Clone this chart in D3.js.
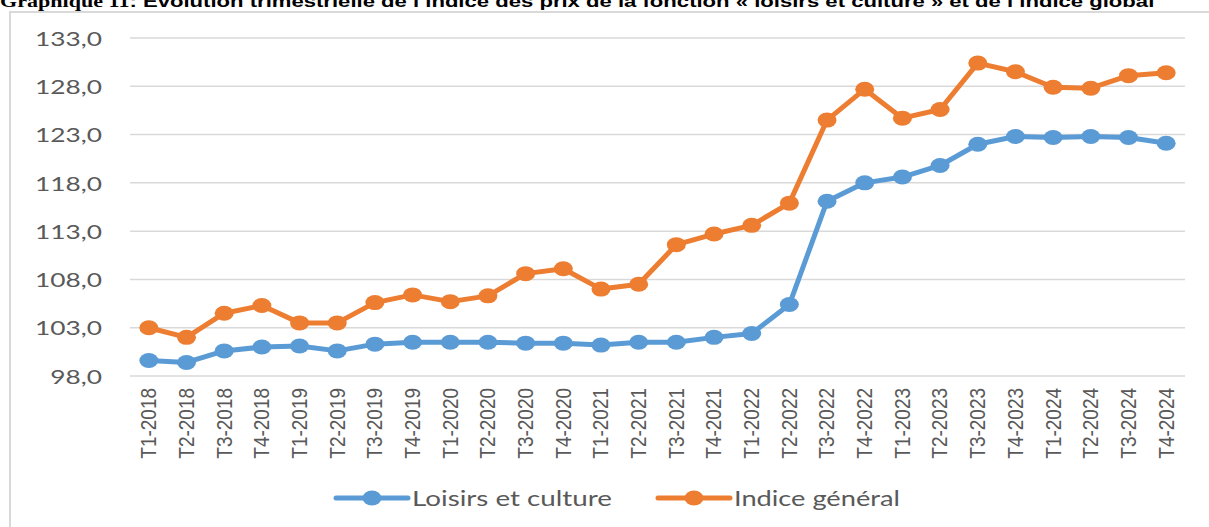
<!DOCTYPE html>
<html>
<head>
<meta charset="utf-8">
<script src="https://cdn.jsdelivr.net/npm/d3@7"></script>
<style>
  html, body { margin: 0; padding: 0; background: #fff; }
  svg { display: block; }
</style>
</head>
<body>
<div id="chart"></div>
<script>
// quarterly categories
const quarters = [
  "T1-2018", "T2-2018", "T3-2018", "T4-2018",
  "T1-2019", "T2-2019", "T3-2019", "T4-2019",
  "T1-2020", "T2-2020", "T3-2020", "T4-2020",
  "T1-2021", "T2-2021", "T3-2021", "T4-2021",
  "T1-2022", "T2-2022", "T3-2022", "T4-2022",
  "T1-2023", "T2-2023", "T3-2023", "T4-2023",
  "T1-2024", "T2-2024", "T3-2024", "T4-2024"
];

// values
const loisirs = [
  99.6, 99.4, 100.6, 101.0,
  101.1, 100.6, 101.3, 101.5,
  101.5, 101.5, 101.4, 101.4,
  101.2, 101.5, 101.5, 102.0,
  102.4, 105.4, 116.1, 118.0,
  118.6, 119.8, 122.0, 122.8,
  122.7, 122.8, 122.7, 122.1
];
const indiceGeneral = [
  103.0, 102.0, 104.5, 105.3,
  103.5, 103.5, 105.6, 106.4,
  105.7, 106.3, 108.6, 109.1,
  107.0, 107.5, 111.6, 112.7,
  113.6, 115.9, 124.5, 127.7,
  124.7, 125.6, 130.4, 129.5,
  127.9, 127.8, 129.1, 129.4
];

const yTicks = [98, 103, 108, 113, 118, 123, 128, 133];

const seriesNames = ["Loisirs et culture", "Indice général"];
const seriesColors = ["#5b9bd5", "#ed7d31"];

const width = 1209, height = 527;
const plot = { left: 130, right: 1185, top: 38, bottom: 376 };

const svg = d3.select("#chart").append("svg")
  .attr("width", width)
  .attr("height", height);

// title (top half is cut off in the source)
const title = svg.append("text")
  .attr("x", 0)
  .attr("y", 7)
  .attr("font-size", 17)
  .attr("font-weight", "bold")
  .attr("fill", "#000");
title.append("tspan")
  .attr("font-family", "'Liberation Serif', serif")
  .text("Graphique 11");
title.append("tspan")
  .attr("font-family", "'Liberation Sans', Arial, sans-serif")
  .text(": Évolution trimestrielle de l’indice des prix de la fonction « loisirs et culture » et de l’indice global");
const tw = title.node().getComputedTextLength();
title.attr("transform", `scale(${1155 / tw},1)`);

// chart frame
svg.append("path")
  .attr("d", `M10,${height} V12 H${width}`)
  .attr("fill", "none")
  .attr("stroke", "#d9d9d9")
  .attr("stroke-width", 2);

const x = d3.scaleBand()
  .domain(quarters)
  .range([plot.left, plot.right]);

const y = d3.scaleLinear()
  .domain([98, 133])
  .range([plot.bottom, plot.top]);

// grid lines
svg.append("g")
  .selectAll("line")
  .data(yTicks)
  .join("line")
  .attr("x1", plot.left)
  .attr("x2", plot.right)
  .attr("y1", d => y(d))
  .attr("y2", d => y(d))
  .attr("stroke", "#d9d9d9")
  .attr("stroke-width", 1.5);

// y labels
const fmt = d => d.toFixed(1).replace(".", ",");
const yLab = svg.append("g")
  .attr("font-family", "Lato, 'Open Sans', sans-serif")
  .attr("font-size", 20)
  .attr("fill", "#595959");
const yTexts = yLab.selectAll("text")
  .data(yTicks)
  .join("text")
  .attr("text-anchor", "end")
  .attr("dominant-baseline", "central")
  .text(fmt);
const wRef = yTexts.filter(d => d === 133).node().getComputedTextLength();
const sx = 67 / wRef;
yTexts.attr("transform", d => `translate(102,${y(d)}) scale(${sx},1)`);

// x labels, rotated
svg.append("g")
  .attr("font-family", "'Liberation Sans', Arial, sans-serif")
  .attr("font-size", 19)
  .attr("fill", "#595959")
  .selectAll("text")
  .data(quarters)
  .join("text")
  .attr("text-anchor", "end")
  .attr("dominant-baseline", "central")
  .attr("transform", d => `translate(${x(d) + x.bandwidth() / 2},388) rotate(-90) scale(1,1.12)`)
  .text(d => d);

// series
const series = [loisirs, indiceGeneral];
const line = d3.line()
  .x((d, i) => x(quarters[i]) + x.bandwidth() / 2)
  .y(d => y(d));

series.forEach((vals, s) => {
  const g = svg.append("g");
  g.append("path")
    .datum(vals)
    .attr("d", line)
    .attr("fill", "none")
    .attr("stroke", seriesColors[s])
    .attr("stroke-width", 5)
    .attr("stroke-linejoin", "round");
  g.selectAll("ellipse")
    .data(vals)
    .join("ellipse")
    .attr("cx", (d, i) => x(quarters[i]) + x.bandwidth() / 2)
    .attr("cy", d => y(d))
    .attr("rx", 9.5)
    .attr("ry", 7.5)
    .attr("fill", seriesColors[s]);
});

// legend
const legendX = [336, 658];
const legendY = 498;
const legendW = [200, 166];
seriesNames.forEach((name, s) => {
  const g = svg.append("g").attr("transform", `translate(${legendX[s]},${legendY})`);
  g.append("line")
    .attr("x1", 0).attr("x2", 72)
    .attr("stroke", seriesColors[s])
    .attr("stroke-width", 5)
    .attr("stroke-linecap", "round");
  g.append("ellipse")
    .attr("cx", 36).attr("rx", 9.5).attr("ry", 7.5)
    .attr("fill", seriesColors[s]);
  const t = g.append("text")
    .attr("font-family", "Lato, 'Open Sans', sans-serif")
    .attr("font-size", 21)
    .attr("fill", "#595959")
    .attr("dominant-baseline", "central")
    .text(name);
  const w = t.node().getComputedTextLength();
  t.attr("transform", `translate(76,0) scale(${legendW[s] / w},1)`);
});
</script>
</body>
</html>
